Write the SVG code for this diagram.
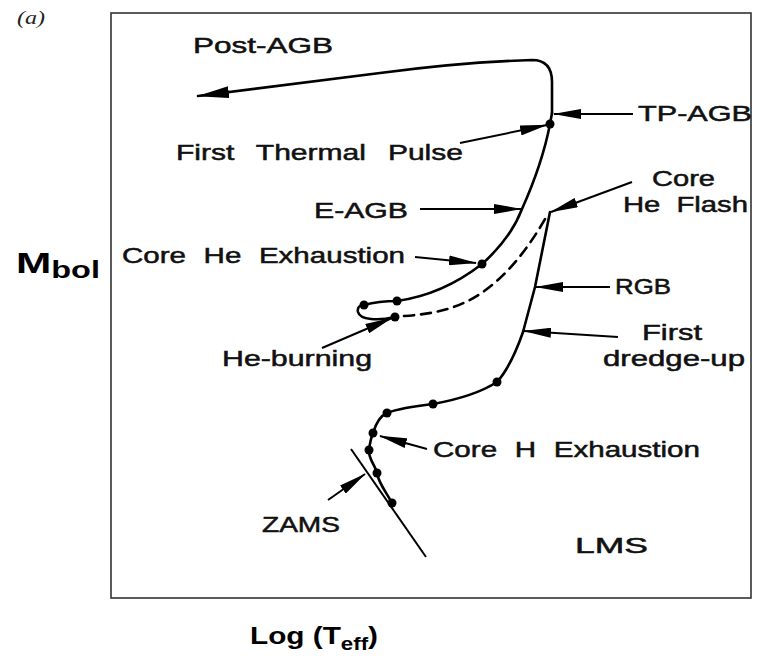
<svg xmlns="http://www.w3.org/2000/svg" width="762" height="661" viewBox="0 0 762 661">
<defs>
<style>
.lbl{font-family:"Liberation Sans",Arial,sans-serif;font-size:22px;fill:#111;stroke:#111;stroke-width:0.5}
.ax{font-family:"Liberation Sans",Arial,sans-serif;font-weight:bold;fill:#000}
.trk{fill:none;stroke:#000;stroke-width:2.6;stroke-linejoin:round;stroke-linecap:round}
.arr{fill:none;stroke:#000;stroke-width:2}
.dot{fill:#000}
</style>
<marker id="ah" viewBox="0 0 28 10" refX="27" refY="5" markerWidth="28" markerHeight="10" orient="auto" markerUnits="userSpaceOnUse">
<path d="M0,0 L28,5 L0,10 Z" fill="#000"/>
</marker>
<marker id="ahb" viewBox="0 0 32 12" refX="31" refY="6" markerWidth="32" markerHeight="12" orient="auto" markerUnits="userSpaceOnUse">
<path d="M0,0 L32,6 L0,12 Z" fill="#000"/>
</marker>
</defs>
<rect width="762" height="661" fill="#fff"/>

<g id="frame">
<rect x="111" y="13" width="640" height="585" fill="none" stroke="#333" stroke-width="1.6"/>
</g>

<g id="panel-label">
<text x="17" y="24" font-family="'Liberation Serif',serif" font-style="italic" font-size="18" fill="#222" textLength="28" lengthAdjust="spacingAndGlyphs">(a)</text>
</g>

<g id="axis-y">
<text class="ax" x="16" y="273" font-size="30" textLength="84" lengthAdjust="spacingAndGlyphs">M<tspan font-size="23" dy="5">bol</tspan></text>
</g>
<g id="axis-x">
<text class="ax" x="250" y="644" font-size="24" textLength="128" lengthAdjust="spacingAndGlyphs">Log (T<tspan font-size="18" dy="6">eff</tspan><tspan dy="-6">)</tspan></text>
</g>

<g id="connectors">
<path class="trk" d="M 392 503 C 386 492 378 482 377 473 C 375 465 368 458 369 450 C 370 442 371 438 373 433 C 376 423 380 416 387 413 C 400 408 415 406 433 404 C 455 400 480 393 497 382 C 506 372 516 352 523 332 L 535 287 L 550 212"/>
<path class="trk" d="M 395 317 C 378 321 360 320 358 312 C 357 307 360 305 364 305 C 375 302 385 301 397 301 C 425 297 455 285 482 264 C 500 248 514 230 522 209 C 535 180 545 150 550 124 L 552 113"/>
<path class="trk" d="M 552 113 L 552 82 Q 552 60 532 60 Q 462 62 380 73 L 198 96" marker-end="url(#ahb)"/>
<path class="trk" d="M 404 316 C 435 314 462 308 487 289 C 512 270 531 244 548 214" stroke-dasharray="10 7" stroke-linecap="butt" stroke-width="2.2"/>
<path class="arr" d="M 351 449 L 426 557"/>
<path class="arr" d="M 633 114 L 554 114" marker-end="url(#ah)"/>
<path class="arr" d="M 460 143 L 547 125" marker-end="url(#ah)"/>
<path class="arr" d="M 632 182 L 551 212" marker-end="url(#ah)"/>
<path class="arr" d="M 420 209 L 521 209" marker-end="url(#ah)"/>
<path class="arr" d="M 415 257 L 476 263" marker-end="url(#ah)"/>
<path class="arr" d="M 610 287 L 536 287" marker-end="url(#ah)"/>
<path class="arr" d="M 618 337 L 524 331" marker-end="url(#ah)"/>
<path class="arr" d="M 322 348 L 392 318" marker-end="url(#ah)"/>
<path class="arr" d="M 427 449 L 380 436" marker-end="url(#ah)"/>
<path class="arr" d="M 328 500 L 365 474" marker-end="url(#ah)"/>
</g>

<g id="dots">
<circle class="dot" cx="550" cy="124" r="4.5"/>
<circle class="dot" cx="482" cy="264" r="4.5"/>
<circle class="dot" cx="397" cy="301" r="4.5"/>
<circle class="dot" cx="364" cy="305" r="4.5"/>
<circle class="dot" cx="395" cy="317" r="4.5"/>
<circle class="dot" cx="497" cy="382" r="4.5"/>
<circle class="dot" cx="433" cy="404" r="4.5"/>
<circle class="dot" cx="387" cy="413" r="4.5"/>
<circle class="dot" cx="373" cy="433" r="4.5"/>
<circle class="dot" cx="369" cy="450" r="4.5"/>
<circle class="dot" cx="377" cy="473" r="4.5"/>
<circle class="dot" cx="392" cy="503" r="4.5"/>
</g>

<g id="post-agb"><text class="lbl" x="193" y="53" textLength="140" lengthAdjust="spacingAndGlyphs">Post-AGB</text></g>
<g id="tp-agb"><text class="lbl" x="638" y="121" textLength="114" lengthAdjust="spacingAndGlyphs">TP-AGB</text></g>
<g id="first-thermal-pulse"><text class="lbl" x="176" y="160" word-spacing="10" textLength="287" lengthAdjust="spacingAndGlyphs">First Thermal Pulse</text></g>
<g id="core-he-flash">
<text class="lbl" x="652" y="186" textLength="63" lengthAdjust="spacingAndGlyphs">Core</text>
<text class="lbl" x="623" y="212" word-spacing="6" textLength="125" lengthAdjust="spacingAndGlyphs">He Flash</text>
</g>
<g id="e-agb"><text class="lbl" x="314" y="218" textLength="94" lengthAdjust="spacingAndGlyphs">E-AGB</text></g>
<g id="core-he-exhaustion"><text class="lbl" x="122" y="263" word-spacing="7" textLength="283" lengthAdjust="spacingAndGlyphs">Core He Exhaustion</text></g>
<g id="rgb"><text class="lbl" x="615" y="294" textLength="56" lengthAdjust="spacingAndGlyphs">RGB</text></g>
<g id="first-dredge-up">
<text class="lbl" x="642" y="340" textLength="60" lengthAdjust="spacingAndGlyphs">First</text>
<text class="lbl" x="603" y="366" textLength="142" lengthAdjust="spacingAndGlyphs">dredge-up</text>
</g>
<g id="he-burning"><text class="lbl" x="222" y="366" textLength="150" lengthAdjust="spacingAndGlyphs">He-burning</text></g>
<g id="core-h-exhaustion"><text class="lbl" x="433" y="457" word-spacing="7" textLength="267" lengthAdjust="spacingAndGlyphs">Core H Exhaustion</text></g>
<g id="zams"><text class="lbl" x="262" y="532" textLength="78" lengthAdjust="spacingAndGlyphs">ZAMS</text></g>
<g id="lms"><text class="lbl" x="575" y="553" font-size="25" textLength="73" lengthAdjust="spacingAndGlyphs">LMS</text></g>
</svg>
